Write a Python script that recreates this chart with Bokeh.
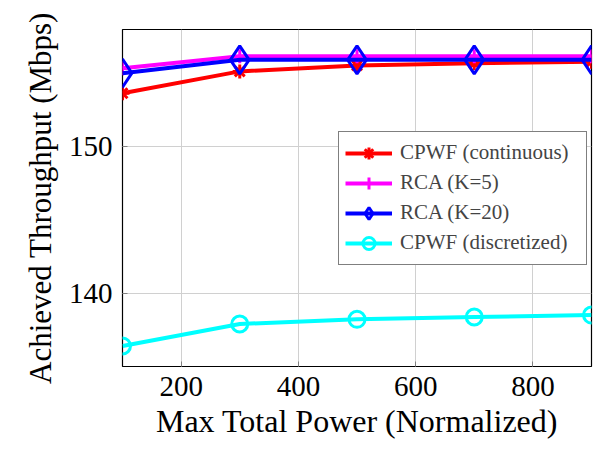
from bokeh.plotting import figure
from bokeh.models import FixedTicker, Legend, LegendItem, Range1d
from bokeh.embed import file_html
from bokeh.resources import INLINE

power = [100, 300, 500, 700, 900]
cpwf_cont = [153.65, 155.14, 155.54, 155.70, 155.80]
rca_k5 = [155.36, 156.17, 156.17, 156.17, 156.17]
rca_k20 = [155.02, 155.93, 155.93, 155.93, 155.93]
cpwf_disc = [136.4, 137.9, 138.22, 138.38, 138.51]

x_ticks = [200, 400, 600, 800]
y_ticks = [140, 150]

FONT = "Liberation Serif"

p = figure(width=596, height=441, output_backend="svg", toolbar_location=None,
           x_range=Range1d(100, 900), y_range=Range1d(135, 158),
           min_border_left=122, min_border_right=5, min_border_top=29, min_border_bottom=72)
p.outline_line_color = "black"
p.outline_line_width = 1.2

p.xaxis.ticker = FixedTicker(ticks=x_ticks)
p.yaxis.ticker = FixedTicker(ticks=y_ticks)
for ax in (p.xaxis[0], p.yaxis[0]):
    ax.major_label_text_font = FONT
    ax.major_label_text_font_size = "29px"
    ax.major_label_text_color = "black"
    ax.axis_label_text_font = FONT
    ax.axis_label_text_font_style = "normal"
    ax.axis_label_text_color = "black"
    ax.axis_line_color = None
    ax.major_tick_in = 5
    ax.major_tick_out = 0
    ax.major_tick_line_color = "#808080"
    ax.minor_tick_line_color = None
p.xaxis.axis_label = "Max Total Power (Normalized)"
p.yaxis.axis_label = "Achieved Throughput (Mbps)"
p.xaxis.axis_label_text_font_size = "32px"
p.yaxis.axis_label_text_font_size = "31px"
p.xaxis.axis_label_standoff = 4
p.yaxis.axis_label_standoff = 8
p.xaxis.major_label_standoff = 10
p.yaxis.major_label_standoff = 10

p.xgrid.ticker = FixedTicker(ticks=x_ticks)
p.ygrid.ticker = FixedTicker(ticks=y_ticks)
p.grid.grid_line_color = "#d0d0d0"
p.grid.grid_line_width = 1

LW = 4
l1 = p.line(power, cpwf_cont, line_color="red", line_width=LW)
s1 = p.scatter(power, cpwf_cont, marker="asterisk", size=14, line_color="red", line_width=3)
l2 = p.line(power, rca_k5, line_color="magenta", line_width=LW)
s2 = p.scatter(power, rca_k5, marker="cross", size=14, line_color="magenta", line_width=3)
l3 = p.line(power, rca_k20, line_color="blue", line_width=LW)
s3 = p.scatter(power, rca_k20, marker="diamond", size=28, line_color="blue", fill_color=None, line_width=3)
l4 = p.line(power, cpwf_disc, line_color="cyan", line_width=LW)
s4 = p.scatter(power, cpwf_disc, marker="circle", size=16, line_color="cyan", fill_color=None, line_width=3)

legend = Legend(items=[
    LegendItem(label="CPWF (continuous)", renderers=[l1, s1]),
    LegendItem(label="RCA (K=5)", renderers=[l2, s2]),
    LegendItem(label="RCA (K=20)", renderers=[l3, s3]),
    LegendItem(label="CPWF (discretized)", renderers=[l4, s4]),
], location="right")
legend.label_text_font = FONT
legend.label_text_font_size = "21px"
legend.glyph_width = 47
legend.glyph_height = 30
legend.label_height = 30
legend.label_width = 180
legend.spacing = 0
legend.padding = 6
legend.label_standoff = 8
legend.margin = 4
legend.border_line_color = "black"
legend.border_line_width = 1
legend.background_fill_alpha = 1
p.add_layout(legend, "center")

open("out.html", "w").write(file_html(p, INLINE))
